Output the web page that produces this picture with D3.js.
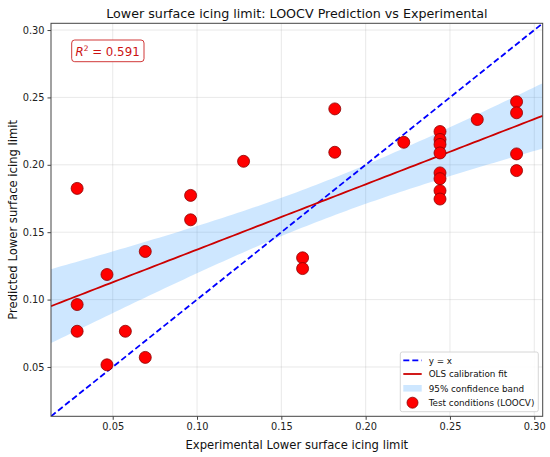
<!DOCTYPE html>
<html><head><meta charset="utf-8">
<script src="https://cdn.jsdelivr.net/npm/d3@7"></script>
<style>body{margin:0;background:#fff;} text{font-family:"DejaVu Sans",sans-serif;}</style>
</head><body>
<svg id="c" width="550" height="457"></svg>
<script>
// Data
const experimental = [0.0289,0.0289,0.0289,0.0466,0.0466,0.0575,0.0693,0.0693,0.0962,0.0962,0.1276,0.1626,0.1626,0.1817,0.1817,0.2226,0.2441,0.2441,0.2441,0.2441,0.2441,0.2441,0.2441,0.2441,0.2662,0.2895,0.2895,0.2895,0.2895];
const predicted    = [0.1825,0.0963,0.0765,0.1186,0.0516,0.0765,0.1357,0.0571,0.1773,0.1592,0.2026,0.1310,0.1230,0.2415,0.2093,0.2167,0.2247,0.2188,0.2151,0.2088,0.1940,0.1897,0.1808,0.1746,0.2336,0.2468,0.2386,0.2081,0.1957];
const axisLimits = [0.0134, 0.305];
const xTicks = [0.05,0.10,0.15,0.20,0.25,0.30];
const yTicks = [0.05,0.10,0.15,0.20,0.25,0.30];
const legendLabels = ["y = x","OLS calibration fit","95% confidence band","Test conditions (LOOCV)"];
const r2Text = "0.591";
const tCrit = 2.052;

const svg = d3.select("#c");
const m = {l:51, r:542.7, t:23.3, b:416.3};
const x = d3.scaleLinear().domain(axisLimits).range([m.l, m.r]);
const y = d3.scaleLinear().domain(axisLimits).range([m.b, m.t]);

// OLS fit and confidence band
const n = experimental.length;
const xb = d3.mean(experimental), yb = d3.mean(predicted);
let sxx=0, sxy=0;
for (let i=0;i<n;i++){ sxx += (experimental[i]-xb)**2; sxy += (experimental[i]-xb)*(predicted[i]-yb); }
const slope = sxy/sxx, icpt = yb - slope*xb;
let sse=0; for (let i=0;i<n;i++){ sse += (predicted[i]-(icpt+slope*experimental[i]))**2; }
const s = Math.sqrt(sse/(n-2));
const gx = d3.range(0,101).map(i => axisLimits[0] + (axisLimits[1]-axisLimits[0])*i/100);
const band = gx.map(v => { const f = icpt+slope*v, h = tCrit*s*Math.sqrt(1/n + (v-xb)**2/sxx); return {v, f, lo:f-h, hi:f+h}; });

const g = svg.append("g");
g.append("defs").append("clipPath").attr("id","clip").append("rect")
  .attr("x",m.l).attr("y",m.t).attr("width",m.r-m.l).attr("height",m.b-m.t);

// grid
g.selectAll(".gx").data(xTicks).enter().append("line")
  .attr("x1",d=>x(d)).attr("x2",d=>x(d)).attr("y1",m.t).attr("y2",m.b)
  .attr("stroke","#b0b0b0").attr("stroke-opacity",0.35).attr("stroke-width",0.8);
g.selectAll(".gy").data(yTicks).enter().append("line")
  .attr("y1",d=>y(d)).attr("y2",d=>y(d)).attr("x1",m.l).attr("x2",m.r)
  .attr("stroke","#b0b0b0").attr("stroke-opacity",0.35).attr("stroke-width",0.8);

const plot = g.append("g").attr("clip-path","url(#clip)");
plot.append("path").datum(band)
  .attr("d", d3.area().x(d=>x(d.v)).y0(d=>y(d.lo)).y1(d=>y(d.hi)))
  .attr("fill","#1e90ff").attr("fill-opacity",0.22);
plot.append("path").datum(axisLimits)
  .attr("d", d3.line().x(d=>x(d)).y(d=>y(d)))
  .attr("stroke","#0000ff").attr("stroke-width",1.8).attr("stroke-dasharray","6,3").attr("fill","none");
plot.append("path").datum(band)
  .attr("d", d3.line().x(d=>x(d.v)).y(d=>y(d.f)))
  .attr("stroke","#cc0000").attr("stroke-width",1.8).attr("fill","none");

g.selectAll(".pt").data(d3.range(n)).enter().append("circle")
  .attr("cx",i=>x(experimental[i])).attr("cy",i=>y(predicted[i])).attr("r",6)
  .attr("fill","#ff0000").attr("stroke","#8b0000").attr("stroke-width",0.8);

// axes
const xa = g.append("g").attr("transform",`translate(0,${m.b})`)
  .call(d3.axisBottom(x).tickValues(xTicks).tickFormat(d3.format(".2f")).tickSize(3.5).tickPadding(3));
const ya = g.append("g").attr("transform",`translate(${m.l},0)`)
  .call(d3.axisLeft(y).tickValues(yTicks).tickFormat(d3.format(".2f")).tickSize(3.5).tickPadding(3));
[xa,ya].forEach(a=>{a.select(".domain").remove(); a.selectAll("text").attr("font-size",9.8).attr("fill","#222").style("font-family","DejaVu Sans"); a.selectAll("line").attr("stroke","#444");});

g.append("rect").attr("x",m.l).attr("y",m.t).attr("width",m.r-m.l).attr("height",m.b-m.t)
  .attr("fill","none").attr("stroke","#444").attr("stroke-width",1);

// labels
svg.append("text").attr("x",(m.l+m.r)/2).attr("y",17.5).attr("text-anchor","middle").attr("font-size",12.7).attr("fill","#111")
  .text("Lower surface icing limit: LOOCV Prediction vs Experimental");
svg.append("text").attr("x",(m.l+m.r)/2).attr("y",448.5).attr("text-anchor","middle").attr("font-size",11.6).attr("fill","#111")
  .text("Experimental Lower surface icing limit");
svg.append("text").attr("transform",`translate(17,${(m.t+m.b)/2}) rotate(-90)`).attr("text-anchor","middle").attr("font-size",11.6).attr("fill","#111")
  .text("Predicted Lower surface icing limit");

// R2 box
svg.append("rect").attr("x",71.7).attr("y",40).attr("width",72.3).attr("height",21.7).attr("rx",3)
  .attr("fill","#fff").attr("stroke","#cc2222").attr("stroke-width",0.9);
const rt = svg.append("text").attr("x",75.5).attr("y",56.3).attr("font-size",11.8).attr("fill","#cc1111");
rt.append("tspan").attr("font-style","italic").text("R");
rt.append("tspan").attr("font-size",7.5).attr("dy",-5).text("2");
rt.append("tspan").attr("dy",5).text(" = " + r2Text);

// legend
const L = svg.append("g");
L.append("rect").attr("x",400.3).attr("y",352).attr("width",138).attr("height",59.7).attr("rx",2)
  .attr("fill","#fff").attr("fill-opacity",0.85).attr("stroke","#ccc").attr("stroke-width",0.8);
const ly = [360.3,374,388.3,402.7];
L.append("line").attr("x1",403.3).attr("x2",421.7).attr("y1",ly[0]).attr("y2",ly[0]).attr("stroke","#0000ff").attr("stroke-width",1.8).attr("stroke-dasharray","6,3");
L.append("line").attr("x1",403.3).attr("x2",421.7).attr("y1",ly[1]).attr("y2",ly[1]).attr("stroke","#cc0000").attr("stroke-width",1.8);
L.append("rect").attr("x",403.3).attr("y",ly[2]-3.3).attr("width",18.4).attr("height",6.6).attr("fill","#1e90ff").attr("fill-opacity",0.22);
L.append("circle").attr("cx",412.5).attr("cy",ly[3]).attr("r",5.5).attr("fill","#ff0000").attr("stroke","#8b0000").attr("stroke-width",0.8);
L.selectAll(".lt").data(legendLabels).enter().append("text")
  .attr("x",428.7).attr("y",(d,i)=>ly[i]+3.2).attr("font-size",8.8).attr("fill","#111").text(d=>d);
</script>
</body></html>
